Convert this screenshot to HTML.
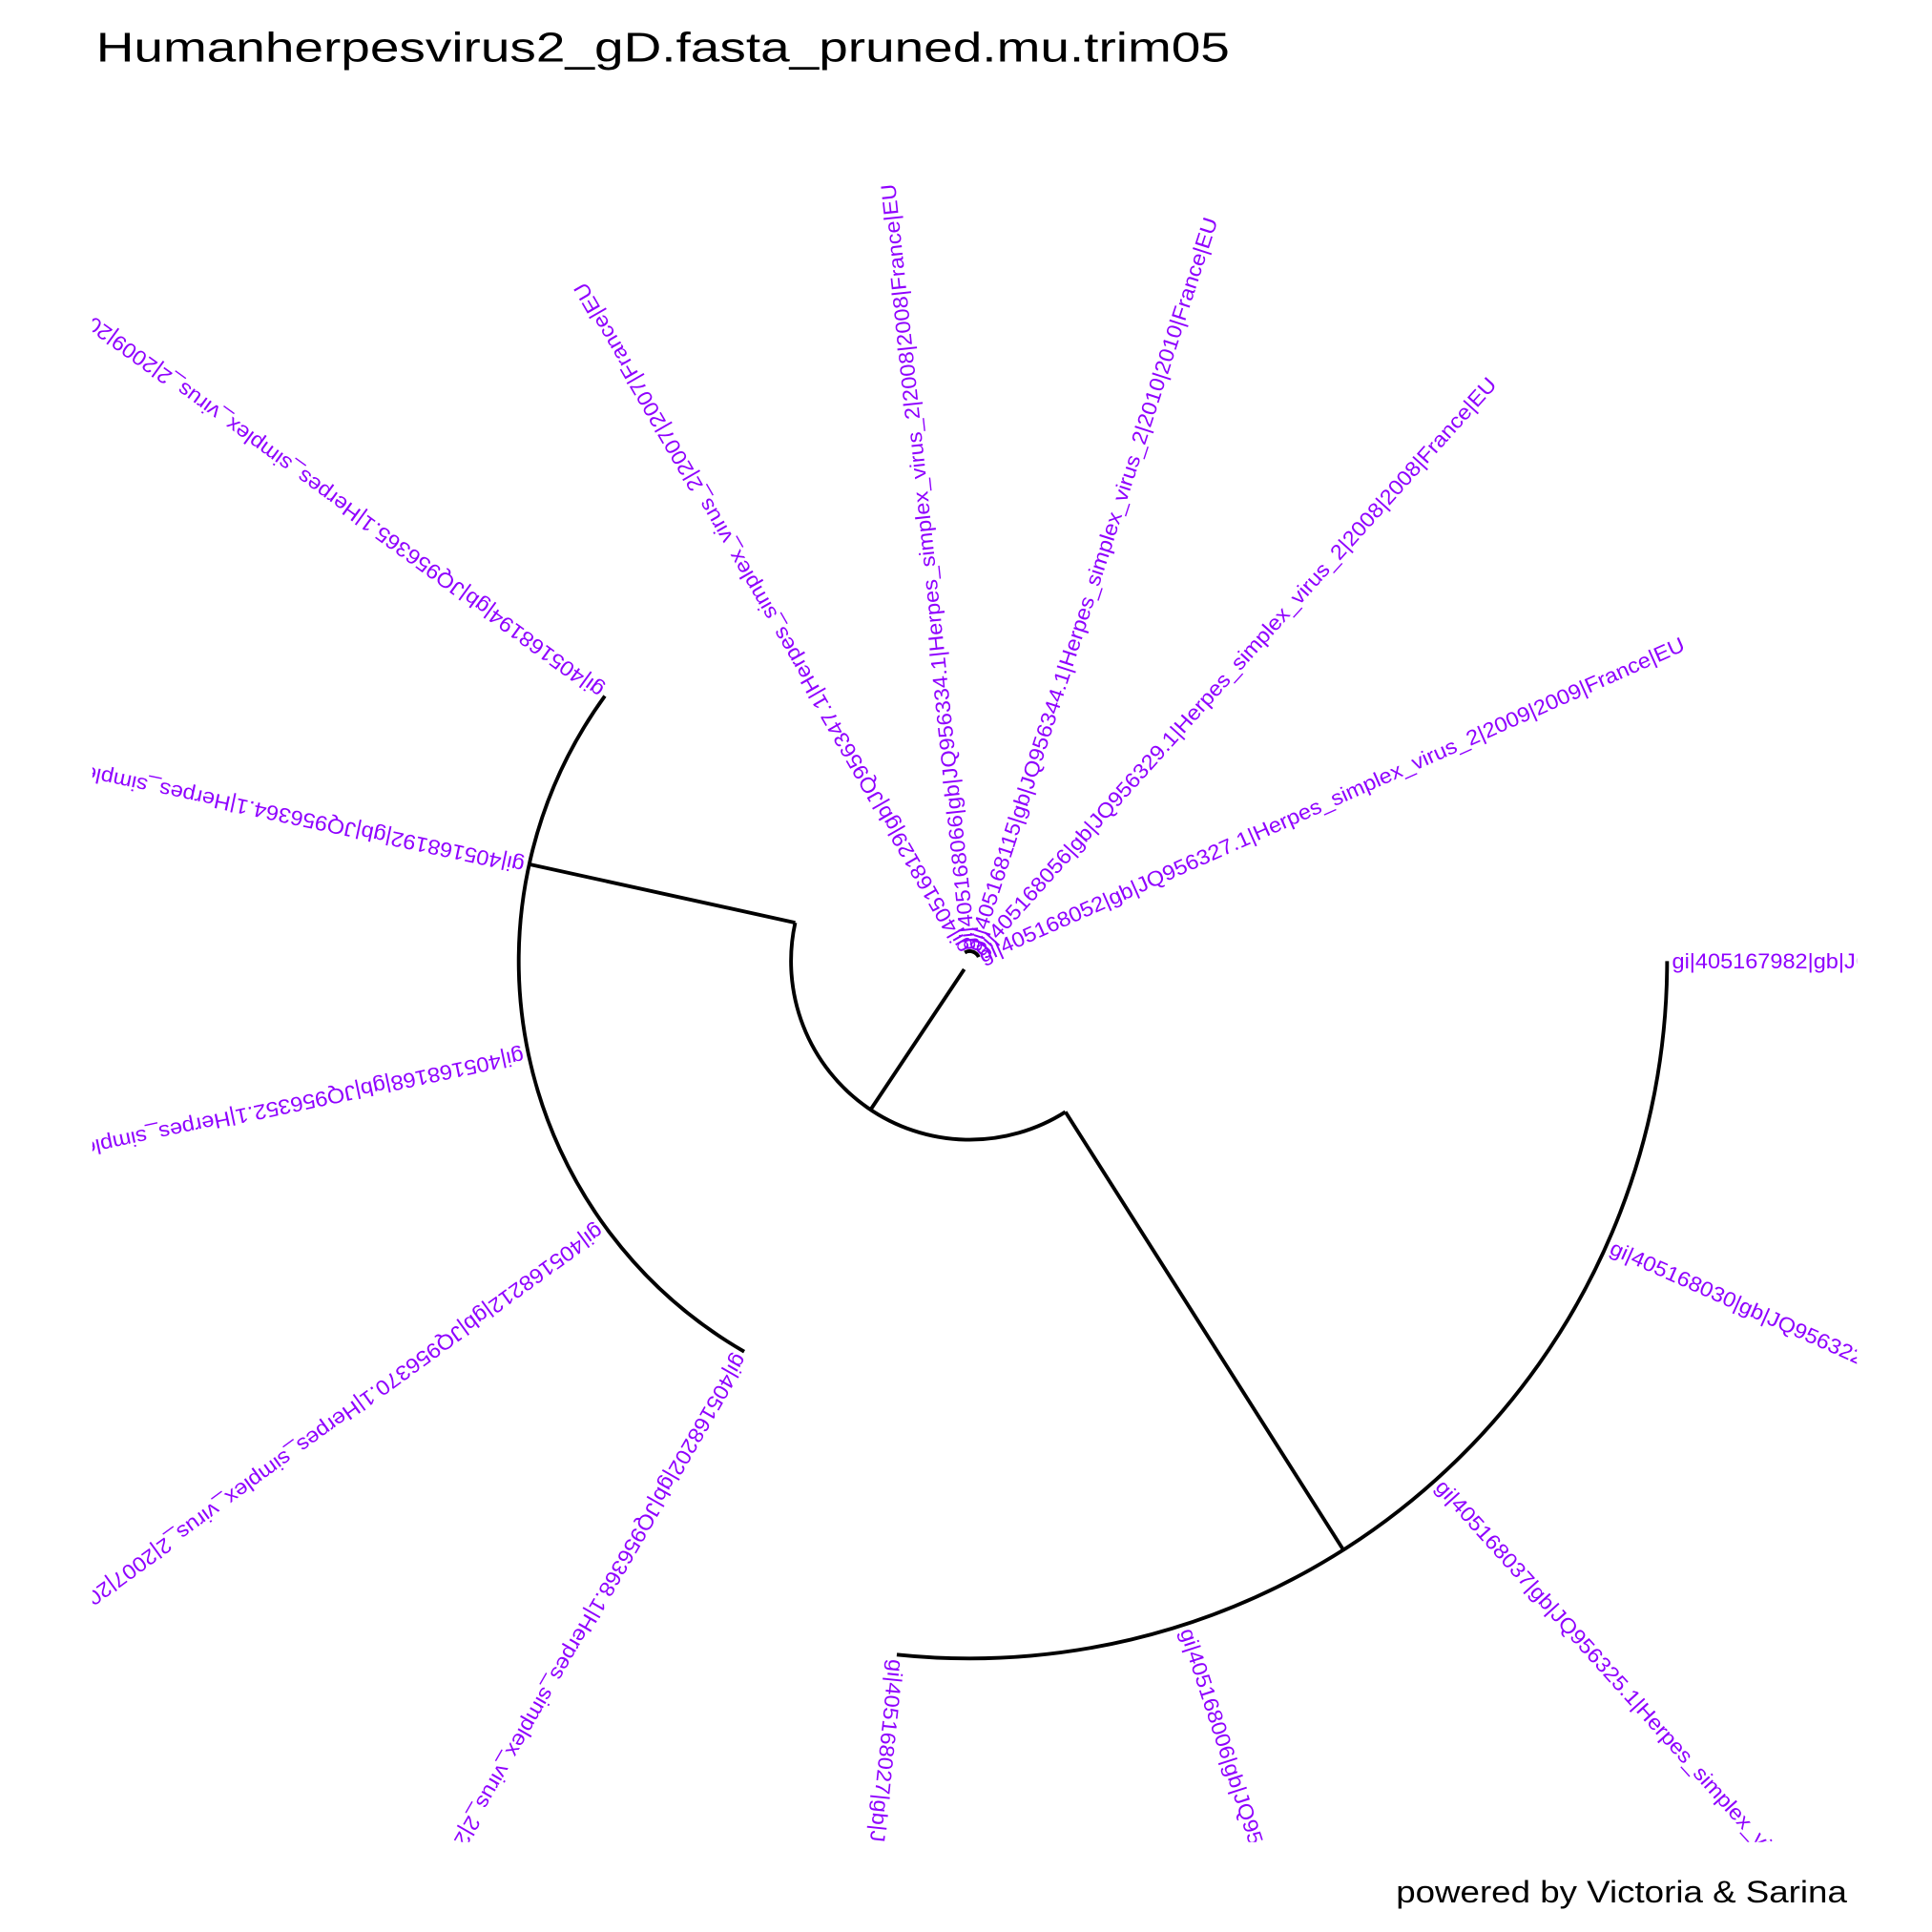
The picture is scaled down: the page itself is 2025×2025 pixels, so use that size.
<!DOCTYPE html>
<html><head><meta charset="utf-8"><style>
html,body{margin:0;padding:0;background:#fff;width:2025px;height:2025px;overflow:hidden;}
svg{display:block;}
text{font-family:"Liberation Sans",Arial,sans-serif;}
</style></head><body>
<svg id="chart" width="2025" height="2025" viewBox="0 0 1568 1568" xmlns="http://www.w3.org/2000/svg">
<defs><clipPath id="panel"><rect x="75" y="90" width="1432" height="1405"/></clipPath></defs>
<text x="78" y="50" font-size="34" textLength="920" lengthAdjust="spacingAndGlyphs" fill="#000">Humanherpesvirus2_gD.fasta_pruned.mu.trim05</text>
<text x="1133" y="1544" font-size="25" textLength="366" lengthAdjust="spacingAndGlyphs" fill="#000">powered by Victoria &amp; Sarina</text>
<g id="branches"></g>
<g id="labels" clip-path="url(#panel)"></g>
</svg>
<script>
// tip data: angle index (x 24 degrees), radius (branch depth, px), label
const tipIndex = [0,1,2,3,4,5,6,7,8,9,10,11,12,13,14];
const tipRadius = [566,566,566,566,566,366,366,366,366,366,5,5,5,5,5];
const tipLabels = [
 "gi|405167982|gb|JQ956316.1|Herpes_simplex_virus_2|2006|2006|France|EU",
 "gi|405168030|gb|JQ956322.1|Herpes_simplex_virus_2|2007|2007|France|EU",
 "gi|405168037|gb|JQ956325.1|Herpes_simplex_virus_2|2008|2008|France|EU",
 "gi|405168006|gb|JQ956319.1|Herpes_simplex_virus_2|2007|2007|France|EU",
 "gi|405168027|gb|JQ956321.1|Herpes_simplex_virus_2|2007|2007|France|EU",
 "gi|405168202|gb|JQ956368.1|Herpes_simplex_virus_2|2010|2010|France|EU",
 "gi|405168212|gb|JQ956370.1|Herpes_simplex_virus_2|2007|2007|France|EU",
 "gi|405168168|gb|JQ956352.1|Herpes_simplex_virus_2|2009|2009|France|EU",
 "gi|405168192|gb|JQ956364.1|Herpes_simplex_virus_2|2009|2009|France|EU",
 "gi|405168194|gb|JQ956365.1|Herpes_simplex_virus_2|2009|2009|France|EU",
 "gi|405168129|gb|JQ956347.1|Herpes_simplex_virus_2|2007|2007|France|EU",
 "gi|405168066|gb|JQ956334.1|Herpes_simplex_virus_2|2008|2008|France|EU",
 "gi|405168115|gb|JQ956344.1|Herpes_simplex_virus_2|2010|2010|France|EU",
 "gi|405168056|gb|JQ956329.1|Herpes_simplex_virus_2|2008|2008|France|EU",
 "gi|405168052|gb|JQ956327.1|Herpes_simplex_virus_2|2009|2009|France|EU"
];
// internal nodes
const nodeRadius = [145,366,566,8];
const nodeAngle = [0,192.4,57.6,123.7];
const arcStart = [57.6,120,0,240];
const arcEnd = [192.4,216,96,336];

const CX=787, CY=780, STEP=24;
const NS="http://www.w3.org/2000/svg";
const br=document.getElementById('branches');
const lb=document.getElementById('labels');
function pt(r,a){const t=a*Math.PI/180;return [CX+r*Math.cos(t),CY+r*Math.sin(t)];}
function path(d,name){
  const p=document.createElementNS(NS,'path');
  p.setAttribute('d',d);p.setAttribute('stroke','#000');p.setAttribute('stroke-width','3');p.setAttribute('fill','none');
  
  
  br.appendChild(p);
}
function arc(r,a0,a1,name){
  const s=pt(r,a0),e=pt(r,a1);const large=(a1-a0)>180?1:0;
  path(`M${s[0]},${s[1]} A${r},${r} 0 ${large} 1 ${e[0]},${e[1]}`,name);
}
function radial(r0,r1,a,name){const s=pt(r0,a),e=pt(r1,a);path(`M${s[0]},${s[1]} L${e[0]},${e[1]}`,name);}
for(let i=0;i<nodeRadius.length;i++){arc(nodeRadius[i],arcStart[i],arcEnd[i],'clade-arc');}
for(let i=1;i<nodeRadius.length;i++){radial(nodeRadius[0],nodeRadius[i],nodeAngle[i],'clade-stem');}
for(let i=0;i<tipIndex.length;i++){
  const a=tipIndex[i]*STEP, r=tipRadius[i]+4;
  const p=pt(r,a);
  const t=document.createElementNS(NS,'text');
  t.setAttribute('x',p[0]);t.setAttribute('y',p[1]);
  t.setAttribute('font-size','17');t.setAttribute('fill','#8f00ff');
  t.setAttribute('dominant-baseline','central');
  t.setAttribute('textLength','625');t.setAttribute('lengthAdjust','spacingAndGlyphs');
  t.setAttribute('transform',`rotate(${a} ${p[0]} ${p[1]})`);
  t.textContent=tipLabels[i];
  
  
  lb.appendChild(t);
}
</script>
</body></html>
